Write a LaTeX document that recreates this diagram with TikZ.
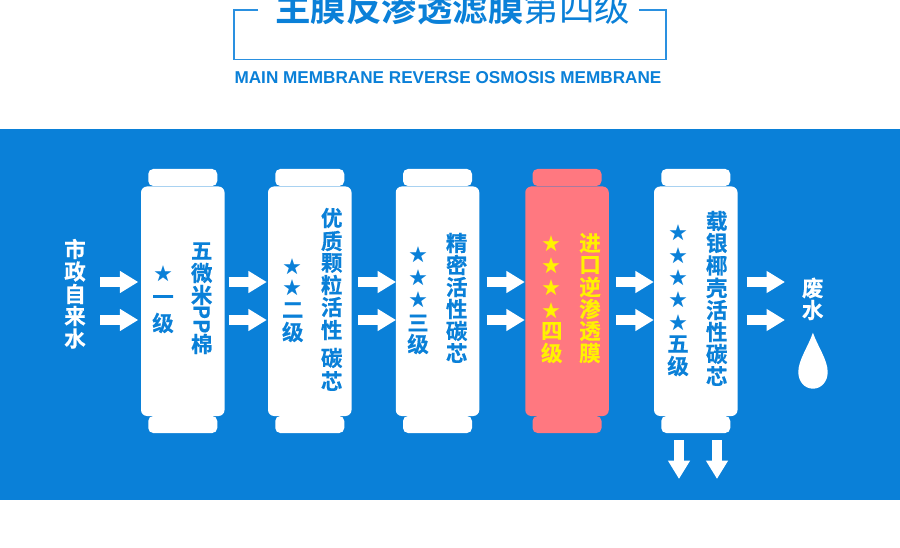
\documentclass[tikz,border=0pt]{standalone}
\usepackage{fontspec}
\setmainfont{Liberation Sans}
\newfontfamily\cjkb{Noto Sans CJK SC Bold}
\newfontfamily\cjkh[FakeBold=0.5]{Noto Sans CJK SC Bold}
\newfontfamily\cjkr{Noto Sans CJK SC}
\usetikzlibrary{arrows.meta}
\definecolor{brand}{HTML}{0A80D8}
\definecolor{rosy}{HTML}{FF7880}
\definecolor{gold}{HTML}{FFF200}
\definecolor{frameblue}{HTML}{2A90E0}
\tikzset{
  body/.style={fill=#1,rounded corners=6pt,minimum width=83.5pt,minimum height=229.5pt,inner sep=0pt},
  capbox/.style={fill=#1,rounded corners=5pt,minimum width=69pt,minimum height=17pt,inner sep=0pt},
  glyph/.style={inner sep=0pt,text=#1,font=\fontsize{21.5}{22}\cjkh,anchor=center},
  starmark/.style={inner sep=0pt,text=#1,font=\fontsize{18}{18}\cjkb,anchor=center},
  flow/.style={draw=white,line width=10.5pt,-{Triangle[length=18.5pt,width=21pt,fill=white]}},
}
\newcommand{\glyphat}[4]{\node[glyph=#2] at (#1,#3) {#4};}
\newcommand{\starat}[3]{\node[starmark=#2] at (#1,#3) {★};}
\begin{document}
\begin{tikzpicture}[x=1pt,y=-1pt]
\useasboundingbox (0,0) rectangle (900,548);
\clip (0,0) rectangle (900,548);
\fill[white] (0,0) rectangle (900,548);
\fill[brand] (0,129) rectangle (900,500);
% heading
\draw[frameblue,line width=1.3pt] (258,10) -- (234,10) -- (234,59.5) -- (666,59.5) -- (666,10) -- (639,10);
\node[inner sep=0pt,text=brand,anchor=center] (title) at (452.5,8) {\fontsize{35.5}{36}\cjkb 主膜反渗透滤膜\cjkr 第四级};
\node[inner sep=0pt,text=brand,anchor=center] (subtitle) at (448,78) {\fontsize{17.15}{17}\selectfont\bfseries MAIN MEMBRANE REVERSE OSMOSIS MEMBRANE};
% filters
\foreach \n/\x/\c in {a/182.75/white,b/309.75/white,c/437.5/white,d/567/rosy,e/695.75/white}{
  \node[capbox=\c] (\n top) at (\x,177.5) {};
  \node[capbox=\c] (\n bot) at (\x,424.5) {};
  \node[body=\c] (\n) at (\x,301.25) {};
}
% source and waste labels
\foreach \t/\y in {市/249,政/271.5,自/294,来/316,水/338.5}{\glyphat{75}{white}{\y}{\t}}
\foreach \t/\y in {废/288,水/310}{\glyphat{812.7}{white}{\y}{\t}}
\coordinate (in1) at (100,282);
\coordinate (in2) at (100,320);
\coordinate (out1) at (785,282);
\coordinate (out2) at (785,320);
\coordinate (down1) at (679,479);
\coordinate (down2) at (717,479);
% column 1
\starat{163}{brand}{274}
\foreach \t/\y in {一/300,级/323}{\glyphat{163}{brand}{\y}{\t}}
\foreach \t/\y in {五/251,微/273,米/295,棉/344}{\glyphat{201.7}{brand}{\y}{\t}}
\node[glyph=brand,rotate=-90] (pp) at (201.7,319) {PP};
% column 2
\foreach \y in {267,288}{\starat{292.7}{brand}{\y}}
\foreach \t/\y in {二/310,级/332}{\glyphat{292.7}{brand}{\y}{\t}}
\foreach \t/\y in {优/218,质/241,颗/263,粒/285,活/307,性/330,碳/358,芯/381}{\glyphat{331.7}{brand}{\y}{\t}}
% column 3
\foreach \y in {255,277.5,300}{\starat{418}{brand}{\y}}
\foreach \t/\y in {三/323,级/344}{\glyphat{418}{brand}{\y}{\t}}
\foreach \t/\y in {精/243,密/265,活/287,性/309,碳/331,芯/353}{\glyphat{456.7}{brand}{\y}{\t}}
% column 4
\foreach \y in {243.5,266,288,310.5}{\starat{551.7}{gold}{\y}}
\foreach \t/\y in {四/331,级/353}{\glyphat{551.7}{gold}{\y}{\t}}
\foreach \t/\y in {进/243,口/265,逆/287,渗/309,透/331,膜/353}{\glyphat{590}{gold}{\y}{\t}}
% column 5
\foreach \y in {233,255.5,278,300,322.5}{\starat{678}{brand}{\y}}
\foreach \t/\y in {五/344,级/366}{\glyphat{678}{brand}{\y}{\t}}
\foreach \t/\y in {载/221,银/243,椰/265.5,壳/288,活/310,性/332,碳/354,芯/376}{\glyphat{716.7}{brand}{\y}{\t}}
% connectors
\draw[flow] (in1) -- ([xshift=-2.5pt,yshift=19.25pt]a.west);
\draw[flow] (in2) -- ([xshift=-2.5pt,yshift=-18.75pt]a.west);
\foreach \p/\q/\s/\e in {a/b/4/-1,b/c/6.5/0.5,c/d/7.25/-0.25,d/e/6.75/0}{
  \draw[flow] ([xshift=\s pt,yshift=19.25pt]\p.east) -- ([xshift=\e pt,yshift=19.25pt]\q.west);
  \draw[flow] ([xshift=\s pt,yshift=-18.75pt]\p.east) -- ([xshift=\e pt,yshift=-18.75pt]\q.west);
}
\draw[flow] ([xshift=9pt,yshift=19.25pt]e.east) -- (out1);
\draw[flow] ([xshift=9pt,yshift=-18.75pt]e.east) -- (out2);
\draw[flow] (ebot.south -| down1) ++(0,7) -- (down1);
\draw[flow] (ebot.south -| down2) ++(0,7) -- (down2);
% drop
\fill[white] (812.9,332.7) .. controls (808,347) and (798.3,360) .. (798.3,372) .. controls (798.3,382) and (805,388.7) .. (812.9,388.7) .. controls (821,388.7) and (827.7,382) .. (827.7,372) .. controls (827.7,360) and (818,347) .. (812.9,332.7) -- cycle;
\end{tikzpicture}
\end{document}
